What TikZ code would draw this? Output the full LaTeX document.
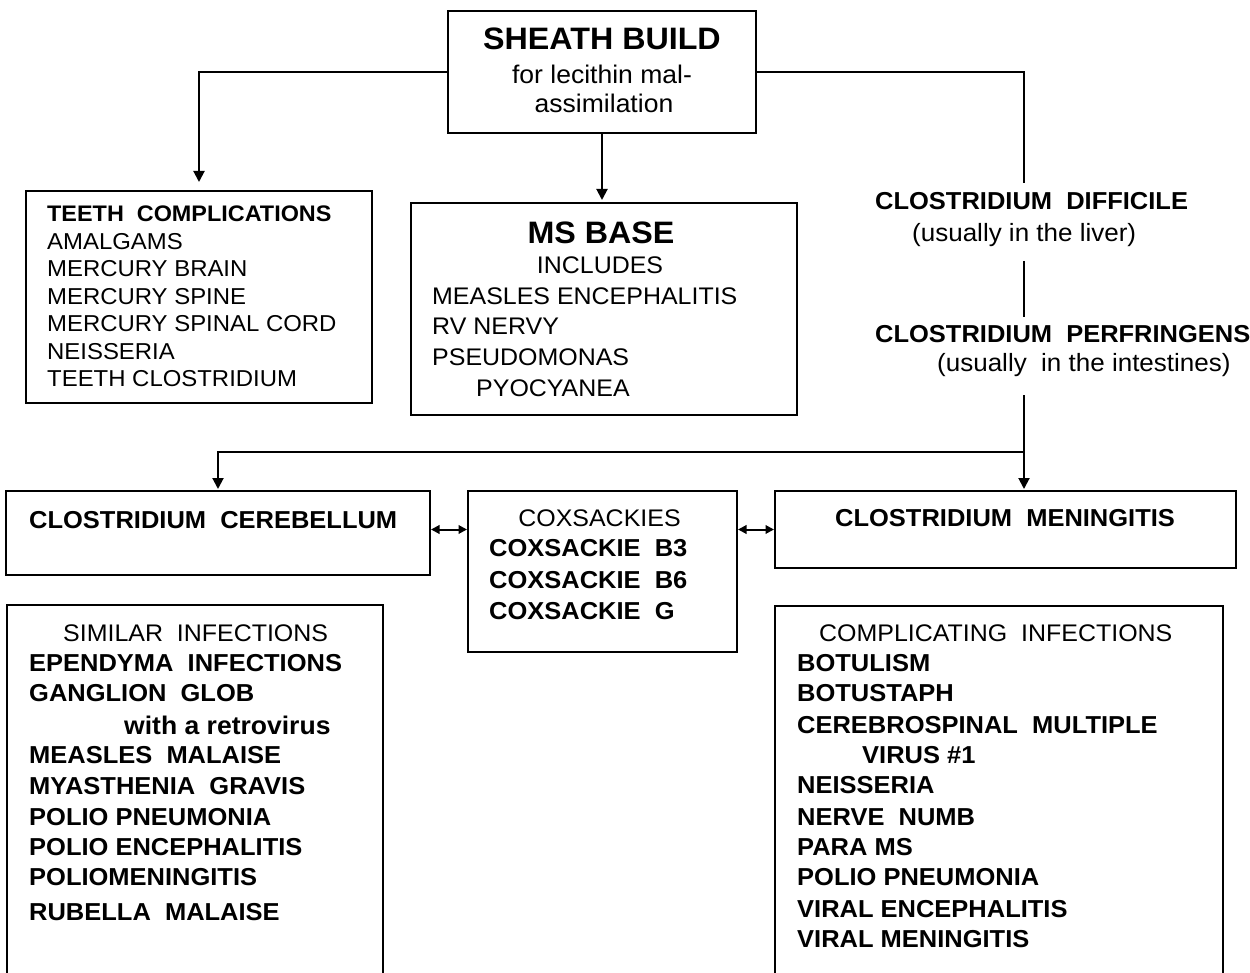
\documentclass[tikz,border=0pt]{standalone}
\usepackage{fontspec}
\setmainfont[FakeStretch=1.04]{Liberation Sans}
\usetikzlibrary{arrows.meta}
\tikzset{
  box/.style={draw, line width=2pt, inner sep=0pt, rectangle},
  conn/.style={line width=2pt},
  arr/.style={conn, -{Triangle[width=11pt,length=11pt]}},
  darr/.style={line width=2pt, {Triangle[width=8.5pt,length=8.5pt]}-{Triangle[width=8.5pt,length=8.5pt]}},
  rl/.style={anchor=base west, inner sep=0pt, font=\fontsize{24}{28}\selectfont},
  ll/.style={anchor=base west, inner sep=0pt, font=\fontsize{25}{28}\selectfont},
  bl/.style={anchor=base west, inner sep=0pt, font=\fontsize{24.5}{28}\selectfont\bfseries},
  rc/.style={anchor=base, inner sep=0pt, font=\fontsize{24}{28}\selectfont},
  lc/.style={anchor=base, inner sep=0pt, font=\fontsize{25.5}{28}\selectfont},
  bigc/.style={anchor=base, inner sep=0pt, font=\fontsize{31}{34}\selectfont\bfseries},
  tl/.style={anchor=base west, inner sep=0pt, font=\fontsize{23}{28}\selectfont},
  tb/.style={anchor=base west, inner sep=0pt, font=\fontsize{22.5}{28}\selectfont\bfseries},
}
\begin{document}
\begin{tikzpicture}[x=1pt,y=-1pt]
\useasboundingbox (0,0) rectangle (1250,973);
\fill[white] (0,0) rectangle (1250,973);

% boxes
\node[box, minimum width=308pt, minimum height=122pt] (top) at (602,72) {};
\node[box, minimum width=346pt, minimum height=212pt] (teeth) at (199,297) {};
\node[box, minimum width=386pt, minimum height=212pt] (ms) at (604,309) {};
\node[box, minimum width=424pt, minimum height=84pt] (cer) at (218,533) {};
\node[box, minimum width=269pt, minimum height=161pt] (cox) at (602.5,571.5) {};
\node[box, minimum width=461pt, minimum height=77pt] (men) at (1005.5,529.5) {};
\node[box, minimum width=376pt, minimum height=390pt] (sim) at (195,800) {};
\node[box, minimum width=448pt, minimum height=390pt] (comp) at (999,801) {};

% top box text
\node[bigc] (t1) at (602,50) {SHEATH BUILD};
\node[lc] (t2) at (602,83.5) {for lecithin mal-};
\node[lc] (t3) at (604,113) {assimilation};

% teeth box text
\node[tb] (a1) at (47,221.7) {TEETH\ \ COMPLICATIONS};
\node[tl] (a2) at (47,249.5) {AMALGAMS};
\node[tl] (a3) at (47,277) {MERCURY BRAIN};
\node[tl] (a4) at (47,304.5) {MERCURY SPINE};
\node[tl] (a5) at (47,332) {MERCURY SPINAL CORD};
\node[tl] (a6) at (47,359.5) {NEISSERIA};
\node[tl] (a7) at (47,387) {TEETH CLOSTRIDIUM};

% MS box text
\node[bigc] (m1) at (601,243.5) {MS BASE};
\node[rc] (m2) at (600,274) {INCLUDES};
\node[rl] (m3) at (432,304.5) {MEASLES ENCEPHALITIS};
\node[rl] (m4) at (432,335) {RV NERVY};
\node[rl] (m5) at (432,365.5) {PSEUDOMONAS};
\node[rl] (m6) at (476,396.5) {PYOCYANEA};

% clostridium texts on the right
\node[bl] (d1) at (875,209.3) {CLOSTRIDIUM\ \ DIFFICILE};
\node[ll] (d2) at (912,242) {(usually in the liver)};
\node[bl] (p1) at (875,342.7) {CLOSTRIDIUM\ \ PERFRINGENS};
\node[ll] (p2) at (937,371) {(usually\ \ in the intestines)};

% middle row text
\node[bl] (c1) at (29,528.3) {CLOSTRIDIUM\ \ CEREBELLUM};
\node[bl] (n1) at (835,526) {CLOSTRIDIUM\ \ MENINGITIS};
\node[rc] (x0) at (599.5,526.7) {COXSACKIES};
\node[bl] (x1) at (489,556.7) {COXSACKIE\ \ B3};
\node[bl] (x2) at (489,588) {COXSACKIE\ \ B6};
\node[bl] (x3) at (489,619) {COXSACKIE\ \ G};

% similar infections
\node[rl] (s0) at (63,641.7) {SIMILAR\ \ INFECTIONS};
\node[bl] (s1) at (29,671.7) {EPENDYMA\ \ INFECTIONS};
\node[bl] (s2) at (29,701.7) {GANGLION\ \ GLOB};
\node[bl, font=\fontsize{25.5}{28}\selectfont\bfseries] (s3) at (124,734) {with a retrovirus};
\node[bl] (s4) at (29,763.5) {MEASLES\ \ MALAISE};
\node[bl] (s5) at (29,794) {MYASTHENIA\ \ GRAVIS};
\node[bl] (s6) at (29,825) {POLIO PNEUMONIA};
\node[bl] (s7) at (29,855) {POLIO ENCEPHALITIS};
\node[bl] (s8) at (29,885) {POLIOMENINGITIS};
\node[bl] (s9) at (29,920) {RUBELLA\ \ MALAISE};

% complicating infections
\node[rl] (k0) at (819,641.7) {COMPLICATING\ \ INFECTIONS};
\node[bl] (k1) at (797,671.7) {BOTULISM};
\node[bl] (k2) at (797,701.7) {BOTUSTAPH};
\node[bl] (k3) at (797,733) {CEREBROSPINAL\ \ MULTIPLE};
\node[bl] (k4) at (862,763) {VIRUS \#1};
\node[bl] (k5) at (797,793) {NEISSERIA};
\node[bl] (k6) at (797,825) {NERVE\ \ NUMB};
\node[bl] (k7) at (797,855) {PARA\ MS};
\node[bl] (k8) at (797,885) {POLIO PNEUMONIA};
\node[bl] (k9) at (797,917) {VIRAL\ ENCEPHALITIS};
\node[bl] (k10) at (797,947) {VIRAL\ MENINGITIS};

% connector coordinates on the right trunk
\coordinate (rA) at (1024,183);
\coordinate (rB) at (1024,261);
\coordinate (rC) at (1024,317);
\coordinate (rD) at (1024,395);
\coordinate (junc) at (1024,452);

% connectors
\draw[arr, shorten >=8pt] (top.west) -| (teeth.north);
\draw[arr, shorten >=2pt] (top.south) -- (top.south |- ms.north);
\draw[conn] (top.east) -| (rA);
\draw[conn] (rB) -- (rC);
\draw[arr, shorten >=1pt] (rD) -- (rD |- men.north);
\draw[arr, shorten >=1pt] (junc) -| (cer.north);
\draw[darr] (cer.east |- men.west) -- (cox.west |- men.west);
\draw[darr] (cox.east |- men.west) -- (men.west);
\end{tikzpicture}
\end{document}
